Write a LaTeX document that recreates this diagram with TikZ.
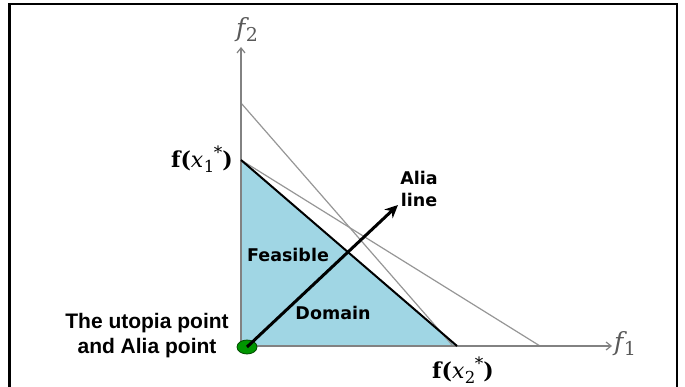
\documentclass[tikz,border=0pt]{standalone}
\usepackage{fontspec}
\setmainfont{Liberation Sans}
\newfontfamily\verd{DejaVu Sans}
\newfontfamily\dvs{DejaVu Serif}
\usetikzlibrary{arrows.meta,shapes.geometric}
\definecolor{domainblue}{RGB}{160,214,228}
\definecolor{axisgray}{RGB}{130,130,130}
\definecolor{thingray}{RGB}{150,150,150}
\definecolor{pointgreen}{RGB}{0,150,0}
\newcommand{\subtxt}[3]{{\dvs\itshape #1}\kern0.5pt\raisebox{-0.2em}{\dvs\fontsize{#3}{#3}\selectfont #2}}
\newcommand{\fxlabel}[1]{{\dvs\bfseries f(}\subtxt{x}{#1}{16.5}\kern-0.5pt\raisebox{0.42em}{\dvs\fontsize{17}{17}\selectfont *}{\dvs\bfseries )}}
\tikzset{
  axisline/.style={draw=axisgray, line width=1.2pt, -{Straight Barb[length=5pt,width=8pt]}},
  grayline/.style={draw=thingray, line width=1.2pt},
  frontline/.style={draw=black, line width=2pt},
  alia/.style={draw=black, line width=3pt, -{Stealth[length=13pt,width=12pt]}},
  biglabel/.style={font=\bfseries\fontsize{21}{25}\selectfont, align=center},
  domlabel/.style={font=\verd\bfseries\fontsize{17.5}{20}\selectfont},
  mathlabel/.style={font=\fontsize{22}{24}\selectfont, inner sep=1pt},
  axislabel/.style={text=black!65, font=\fontsize{25}{27}\selectfont, inner sep=1pt},
}
\begin{document}
\begin{tikzpicture}[x=1pt,y=-1pt]
\useasboundingbox (0,0) rectangle (685,387);
% frame
\draw[line width=2.2pt] (9.5,387) -- (9.5,4) -- (677,4) -- (677,387);
% key points
\coordinate (O) at (241,346);
\coordinate (A) at (241,160);
\coordinate (B) at (457,346);
\coordinate (C) at (241,103);
\coordinate (D) at (453,346);
\coordinate (E) at (540,346);
\coordinate (Ytop) at (241,47);
\coordinate (Xend) at (612,346);
% feasible domain
\fill[domainblue] (O) -- (A) -- (B) -- cycle;
% gray lines
\draw[grayline] (C) -- (D);
\draw[grayline] (A) -- (E);
% axes
\draw[axisline] (O) -- (Ytop);
\draw[axisline] (O) -- (Xend);
% hypotenuse
\draw[frontline] (A) -- (B);
% alia line
\node[ellipse, fill=pointgreen, draw=black!70!green, line width=0.8pt, minimum width=20pt, minimum height=14pt, inner sep=0pt] (P) at (247,347) {};
\coordinate (T) at (398,205);
\draw[alia] (P.center) -- (T);
% labels
\node[axislabel] (f2) at (247,30) {\subtxt{f}{2}{19}};
\node[axislabel, anchor=west] (f1) at (613,344) {\subtxt{f}{1}{19}};
\node[mathlabel, anchor=east] (fx1) at (234,159) {\fxlabel{1}};
\node[mathlabel] (fx2) at (463,370) {\fxlabel{2}};
\node[biglabel] (utopia) at (147,336) {The utopia point\\and Alia point};
\node[domlabel] (feas) at (288,255) {Feasible};
\node[domlabel] (dom) at (333,313) {Domain};
\node[domlabel, align=center] (alialbl) at (419,189) {Alia\\[2pt]line};
\end{tikzpicture}
\end{document}
